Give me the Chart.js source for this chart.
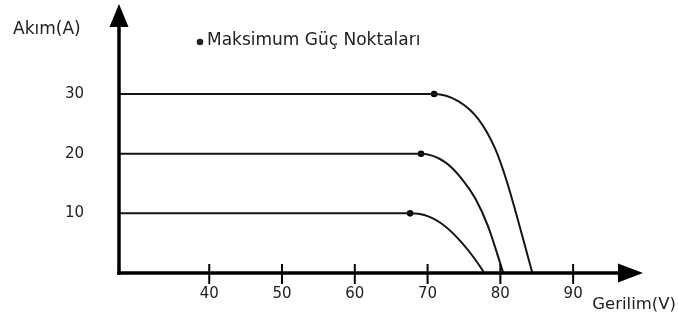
<!DOCTYPE html>
<html lang="tr">
<head>
    <meta charset="UTF-8">
    <title>Akım - Gerilim</title>
    <script src="https://cdn.jsdelivr.net/npm/chart.js"></script>
    <style>
        body { margin: 0; background: #fff; }
        canvas { display: block; }
    </style>
</head>
<body>
    <canvas id="grafik" width="678" height="323"></canvas>

    <script>
        // Eksen etiketleri
        const xTicks = [40, 50, 60, 70, 80, 90];
        const yTicks = [10, 20, 30];

        // 30 A eğrisi
        const v30 = [27.7, 50, 65, 70.9, 74.2, 77.0, 79.3, 80.9, 84.4];
        const i30 = [30, 30, 30, 30, 28.8, 25.75, 20.8, 15.3, 0];

        // 20 A eğrisi
        const v20 = [27.7, 50, 65, 69.1, 72.4, 74.7, 76.6, 78.3, 80.4];
        const i20 = [20, 20, 20, 20, 18.6, 15.8, 12.4, 7.85, 0];

        // 10 A eğrisi
        const v10 = [27.7, 50, 65, 67.6, 70.1, 72.4, 74.7, 76.5, 77.8];
        const i10 = [10, 10, 10, 10, 9.5, 7.85, 5.1, 2.35, 0];

        // Maksimum güç noktaları
        const mppV = [70.9, 69.1, 67.6];
        const mppI = [30, 20, 10];

        const yaziFont = 'DejaVu Sans';

        function noktalar(xs, ys) {
            return xs.map((x, k) => ({ x: x, y: ys[k] }));
        }

        function egri(xs, ys) {
            return {
                type: 'line',
                data: noktalar(xs, ys),
                borderColor: '#151515',
                borderWidth: 2,
                pointRadius: 0,
                cubicInterpolationMode: 'monotone',
                fill: false
            };
        }

        // Eksen okları, çentikler ve yazılar
        const eksenPlugin = {
            id: 'eksenler',
            afterDraw(chart) {
                const ctx = chart.ctx;
                const a = chart.chartArea;
                const xs = chart.scales.x;
                ctx.save();
                ctx.strokeStyle = '#000';
                ctx.fillStyle = '#000';
                ctx.lineWidth = 3.5;

                // y ekseni
                ctx.beginPath();
                ctx.moveTo(a.left, a.bottom + 1.75);
                ctx.lineTo(a.left, a.top + 20);
                ctx.stroke();
                ctx.beginPath();
                ctx.moveTo(a.left, a.top);
                ctx.lineTo(a.left - 9.5, a.top + 23);
                ctx.lineTo(a.left + 9.5, a.top + 23);
                ctx.closePath();
                ctx.fill();

                // x ekseni
                ctx.beginPath();
                ctx.moveTo(a.left - 1.75, a.bottom);
                ctx.lineTo(a.right - 22, a.bottom);
                ctx.stroke();
                ctx.beginPath();
                ctx.moveTo(a.right, a.bottom);
                ctx.lineTo(a.right - 25, a.bottom - 9.5);
                ctx.lineTo(a.right - 25, a.bottom + 9.5);
                ctx.closePath();
                ctx.fill();

                // x çentikleri
                ctx.lineWidth = 2;
                xTicks.forEach(v => {
                    const px = xs.getPixelForValue(v);
                    ctx.beginPath();
                    ctx.moveTo(px, a.bottom - 9);
                    ctx.lineTo(px, a.bottom + 11);
                    ctx.stroke();
                });

                // yazılar
                ctx.fillStyle = '#222';
                ctx.textBaseline = 'middle';
                ctx.font = '17px "' + yaziFont + '"';
                ctx.textAlign = 'left';
                ctx.fillText('Akım(A)', 13, 30);
                ctx.fillText('Maksimum Güç Noktaları', 207, 41);
                ctx.beginPath();
                ctx.arc(200, 42, 3.3, 0, Math.PI * 2);
                ctx.fill();
                ctx.font = '16.5px "' + yaziFont + '"';
                ctx.textAlign = 'right';
                ctx.fillText('Gerilim(V)', 676, 305);
                ctx.restore();
            }
        };

        new Chart(document.getElementById('grafik'), {
            data: {
                datasets: [
                    egri(v30, i30),
                    egri(v20, i20),
                    egri(v10, i10),
                    {
                        type: 'scatter',
                        data: noktalar(mppV, mppI),
                        backgroundColor: '#000',
                        borderColor: '#000',
                        pointRadius: 3.3,
                        borderWidth: 0
                    }
                ]
            },
            options: {
                responsive: false,
                animation: false,
                layout: { padding: { top: 0, right: 35, left: 0, bottom: 0 } },
                plugins: {
                    legend: { display: false },
                    tooltip: { enabled: false }
                },
                scales: {
                    x: {
                        type: 'linear',
                        min: 27.6,
                        max: 99.6,
                        grid: { display: false, drawTicks: false },
                        border: { display: false },
                        afterBuildTicks: s => { s.ticks = xTicks.map(v => ({ value: v })); },
                        afterFit: s => { s.height = 50; },
                        ticks: {
                            padding: 12,
                            color: '#222',
                            font: { family: yaziFont, size: 15 }
                        }
                    },
                    y: {
                        type: 'linear',
                        min: 0,
                        max: 45.1,
                        grid: { display: false, drawTicks: false },
                        border: { display: false },
                        afterBuildTicks: s => { s.ticks = yTicks.map(v => ({ value: v })); },
                        afterFit: s => {
                            s.width = 119;
                            s.paddingTop = 0;
                            s.paddingBottom = 0;
                        },
                        ticks: {
                            padding: 35,
                            color: '#222',
                            font: { family: yaziFont, size: 15 }
                        }
                    }
                }
            },
            plugins: [eksenPlugin]
        });
    </script>
</body>
</html>
